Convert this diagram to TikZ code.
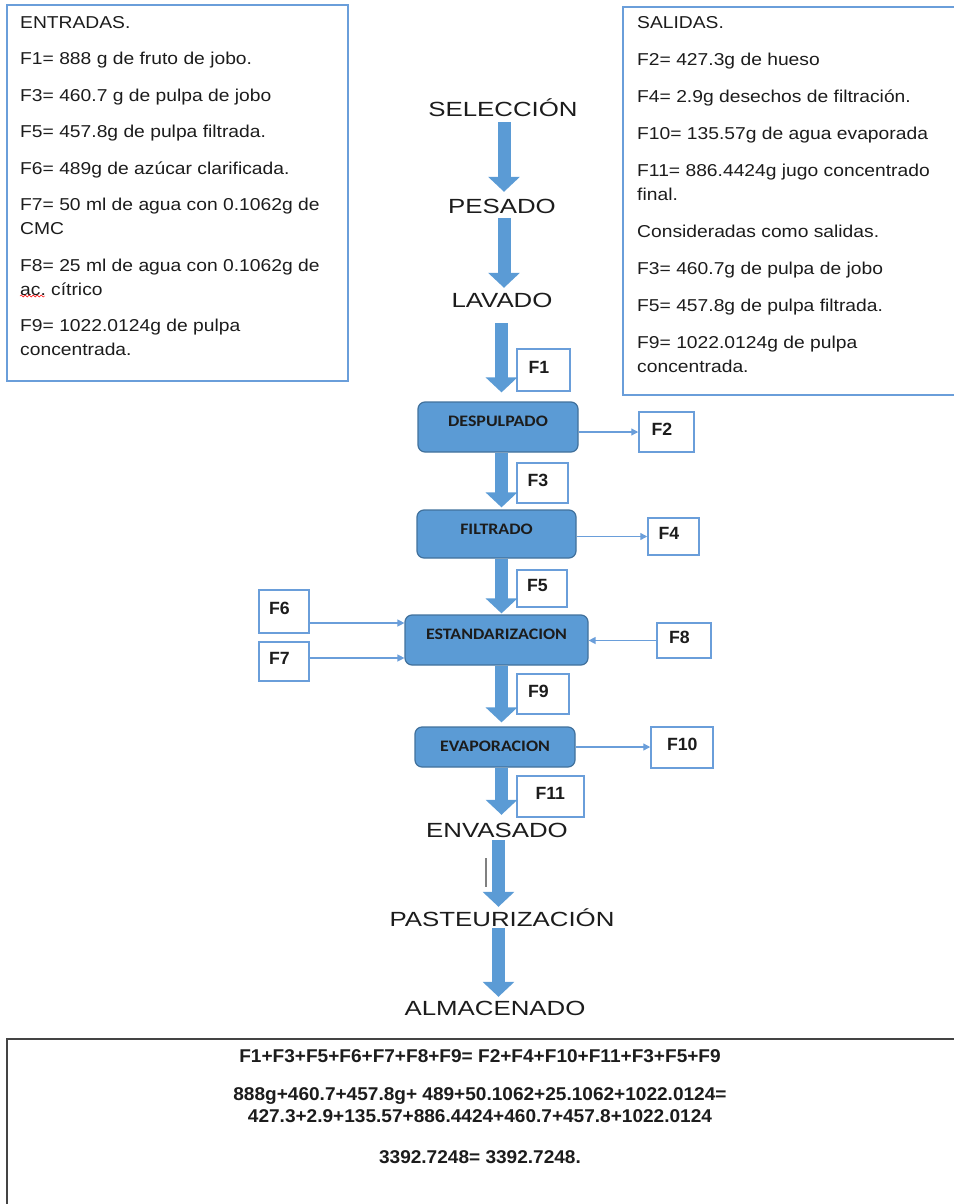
\documentclass[tikz,border=0pt]{standalone}
\usepackage{fontspec}
\setmainfont{Liberation Sans}
\newfontfamily\stagefont[FakeStretch=1.26]{Liberation Sans}
\newfontfamily\listfont[FakeStretch=1.12]{Liberation Sans}
\newfontfamily\procfont[FakeStretch=1.12]{Carlito}
\newfontfamily\eqfont[FakeStretch=1.03]{Liberation Sans}
\usepackage{xcolor}
\usepackage{tikz}
\usetikzlibrary{positioning,calc,arrows.meta,decorations.pathmorphing}
\frenchspacing

\definecolor{procblue}{RGB}{91,155,213}
\definecolor{procedge}{RGB}{65,113,156}
\definecolor{lineblue}{RGB}{106,158,218}
\definecolor{boxgray}{RGB}{68,68,68}
\definecolor{txt}{RGB}{28,28,28}

\tikzset{
  listbox/.style={draw=lineblue, line width=1.3pt},
  listtext/.style={anchor=north west, inner sep=0pt, align=left, text=txt,
    font=\listfont\fontsize{17.2}{24}\selectfont},
  stage/.style={anchor=base, inner sep=0pt, text height=15pt, text depth=0pt, text=txt,
    font=\stagefont\fontsize{20.5}{24}\selectfont},
  proc/.style={draw=procedge, fill=procblue, line width=1.2pt, rounded corners=7pt,
    inner sep=0pt, text height=24pt, text=txt, font=\procfont\bfseries\fontsize{16}{18}\selectfont},
  fbox/.style 2 args={draw=lineblue, line width=1.5pt, fill=white, minimum width=#1,
    minimum height=#2, inner sep=0pt, text width=30pt, align=left, text height=12.7pt,
    text depth=6pt, text=txt, font=\bfseries\fontsize{17.7}{20}\selectfont},
  bigflow/.style={procblue, line width=13pt, -{Triangle[length=15pt, width=31pt]}},
  thinflow/.style={lineblue, line width=1.3pt, -{Triangle[length=7pt, width=7pt]}}
}

\begin{document}
\begin{tikzpicture}[x=1pt, y=-1pt]
    \useasboundingbox (0,0) rectangle (953,1204);

    % Inputs and outputs
    \draw[listbox] (7,5) rectangle (348,381);
    \node[listtext] (entradas) at (20,16) {ENTRADAS.\\[12.5pt]
        F1= 888 g de fruto de jobo.\\[12.5pt]
        F3= 460.7 g de pulpa de jobo\\[12.5pt]
        F5= 457.8g de pulpa filtrada.\\[12.5pt]
        F6= 489g de azúcar clarificada.\\[12.5pt]
        F7= 50 ml de agua con 0.1062g de\\
        CMC\\[12.5pt]
        F8= 25 ml de agua con 0.1062g de\\
        ac. cítrico\\[12.5pt]
        F9= 1022.0124g de pulpa\\
        concentrada.};
    \draw[red, decorate, decoration={snake, amplitude=1pt, segment length=4pt}] (20,296) -- (45,296);

    \draw[listbox] (623,7) rectangle (970,395);
    \node[listtext] (salidas) at (637,16) {SALIDAS.\\[13pt]
        F2= 427.3g de hueso\\[13pt]
        F4= 2.9g desechos de filtración.\\[13pt]
        F10= 135.57g de agua evaporada\\[13pt]
        F11= 886.4424g jugo concentrado\\
        final.\\[13pt]
        Consideradas como salidas.\\[13pt]
        F3= 460.7g de pulpa de jobo\\[13pt]
        F5= 457.8g de pulpa filtrada.\\[13pt]
        F9= 1022.0124g de pulpa\\
        concentrada.};

    % Stages
    \node[stage] (sel) at (503,117) {SELECCIÓN};
    \node[stage] (pes) at (502,213) {PESADO};
    \node[stage] (lav) at (502,307) {LAVADO};
    \node[proc, minimum width=160pt, text depth=26pt] (desp) at (498,427) {DESPULPADO};
    \node[proc, minimum width=159pt, text depth=24pt] (filt) at (496.5,534) {FILTRADO};
    \node[proc, minimum width=183pt, text depth=26pt] (estd) at (496.5,640) {ESTANDARIZACION};
    \node[proc, minimum width=160pt, text depth=16pt] (evap) at (495,747) {EVAPORACION};
    \node[stage] (env) at (497,837) {ENVASADO};
    \node[stage] (past) at (502,926) {PASTEURIZACIÓN};
    \node[stage] (alm) at (495,1015) {ALMACENADO};

    % Streams
    \node[fbox={53pt}{42pt}] (f1) at (543.5,370) {F1};
    \node[fbox={55pt}{40pt}] (f2) at (666.5,432) {F2};
    \node[fbox={51pt}{40pt}] (f3) at (542.5,483) {F3};
    \node[fbox={51pt}{37pt}] (f4) at (673.5,536.5) {F4};
    \node[fbox={50pt}{37pt}] (f5) at (542,588.5) {F5};
    \node[fbox={50pt}{43pt}] (f6) at (284,611.5) {F6};
    \node[fbox={50pt}{39pt}] (f7) at (284,661.5) {F7};
    \node[fbox={54pt}{35pt}] (f8) at (684,640.5) {F8};
    \node[fbox={52pt}{40pt}] (f9) at (543,694) {F9};
    \node[fbox={62pt}{41pt}] (f10) at (682,747.5) {F10};
    \node[fbox={67pt}{41pt}] (f11) at (550.5,796.5) {F11};

    % Main flow
    \coordinate (topaxis) at (504,0);
    \coordinate (axis) at (501.5,0);
    \coordinate (lowaxis) at (498.5,0);
    \draw[bigflow, shorten <=5pt, shorten >=6pt] (topaxis |- sel.south) -- (topaxis |- pes.north);
    \draw[bigflow, shorten <=5pt, shorten >=4pt] (topaxis |- pes.south) -- (topaxis |- lav.north);
    \draw[bigflow, shorten <=16pt, shorten >=9pt] (axis |- lav.south) -- (axis |- desp.north);
    \draw[bigflow, shorten >=2pt] (axis |- desp.south) -- (axis |- filt.north);
    \draw[bigflow, shorten >=1pt] (axis |- filt.south) -- (axis |- estd.north);
    \draw[bigflow, shorten >=4pt] (axis |- estd.south) -- (axis |- evap.north);
    \draw[bigflow, shorten >=7pt] (axis |- evap.south) -- (axis |- env.north);
    \draw[bigflow, shorten <=3pt, shorten >=4pt] (lowaxis |- env.south) -- (lowaxis |- past.north);
    \draw[bigflow, shorten <=2pt, shorten >=3pt] (lowaxis |- past.south) -- (lowaxis |- alm.north);
    \draw[gray, line width=1.2pt] (486,858) -- (486,887);

    % Side streams
    \draw[thinflow] (desp.east |- f2.west) -- (f2.west);
    \draw[thinflow] (filt.east |- f4.west) -- (f4.west);
    \draw[thinflow] ([yshift=-11.5pt]f6.east) -- ([yshift=-11.5pt]f6.east -| estd.west);
    \draw[thinflow] ([yshift=3.5pt]f7.east) -- ([yshift=3.5pt]f7.east -| estd.west);
    \draw[thinflow] (f8.west) -- (f8.west -| estd.east);
    \draw[thinflow] (evap.east) -- (evap.east -| f10.west);

    % Balance
    \draw[boxgray, line width=2.5pt] (7,1039) rectangle (975,1230);
    \node[anchor=north, inner sep=0pt, align=center, text=txt,
          font=\eqfont\bfseries\fontsize{18.5}{21.5}\selectfont] (balance) at (480,1049)
        {F1+F3+F5+F6+F7+F8+F9= F2+F4+F10+F11+F3+F5+F9\\[17pt]
         888g+460.7+457.8g+ 489+50.1062+25.1062+1022.0124=\\
         427.3+2.9+135.57+886.4424+460.7+457.8+1022.0124\\[19.5pt]
         3392.7248= 3392.7248.};
\end{tikzpicture}
\end{document}
